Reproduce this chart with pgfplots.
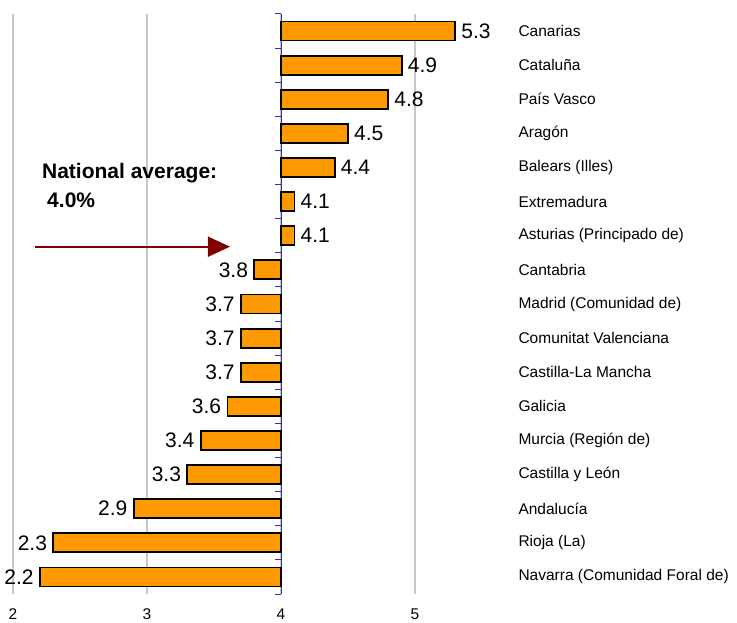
\documentclass[border=0pt]{standalone}
\usepackage{pgfplots}
\pgfplotsset{compat=1.18}
\usepackage{pgfplotstable}
\usepackage{fontspec}
\setmainfont{Liberation Sans}
\usetikzlibrary{arrows.meta}
\definecolor{barorange}{HTML}{FF9900}
\definecolor{axblue}{HTML}{3535A0}
\definecolor{arrowred}{HTML}{800000}
\definecolor{gridgray}{HTML}{C8C8C8}

% idx = row from top, val = value (%)
\pgfplotstableread{
idx val
0 5.3
1 4.9
2 4.8
3 4.5
4 4.4
5 4.1
6 4.1
}\pos
\pgfplotstableread{
idx val
7 3.8
8 3.7
9 3.7
10 3.7
11 3.6
12 3.4
13 3.3
14 2.9
15 2.3
16 2.2
}\neg

\begin{document}
\begin{tikzpicture}
\begin{axis}[
  name=ax,
  scale only axis,
  width=469pt, height=580pt,
  xmin=-2, xmax=1.5,
  ymin=-0.5, ymax=16.5,
  y dir=reverse,
  xbar, bar width=19pt, bar shift=0pt,
  axis line style={draw=none},
  major tick length=0pt,
  xtick={-2,-1,0,1},
  xticklabels={2,3,4,5},
  ytick={0,...,16},
  yticklabels={Canarias,Cataluña,País Vasco,Aragón,Balears (Illes),Extremadura,Asturias (Principado de),Cantabria,Madrid (Comunidad de),Comunitat Valenciana,Castilla-La Mancha,Galicia,Murcia (Región de),Castilla y León,Andalucía,Rioja (La),Navarra (Comunidad Foral de)},
  yticklabel pos=right,
  yticklabel style={anchor=west, xshift=33pt, font=\fontsize{15.5}{18}\selectfont},
  xticklabel style={font=\fontsize{15.5}{18}\selectfont, yshift=-11pt},
  /pgf/number format/assume math mode=true,
  xmajorgrids,
  grid style={gridgray, line width=1.2pt},
  clip=false,
]
\draw[axblue, line width=1pt] (axis cs:0,-0.5) -- (axis cs:0,16.5);
\pgfplotsinvokeforeach{0,...,17}{
  \draw[axblue, line width=1pt] (axis cs:0,#1-0.5) -- ([xshift=-6pt]axis cs:0,#1-0.5);
}
\addplot[fill=barorange, draw=black, line width=1.8pt,
  point meta=explicit,
  nodes near coords={\pgfmathprintnumber[fixed,fixed zerofill,precision=1]{\pgfplotspointmeta}},
  nodes near coords style={anchor=west, font=\fontsize{21}{24}\selectfont, xshift=2pt, text=black}]
  table[x expr=\thisrow{val}-4, y=idx, meta=val] {\pos};
\addplot[fill=barorange, draw=black, line width=1.8pt,
  point meta=explicit,
  nodes near coords={\pgfmathprintnumber[fixed,fixed zerofill,precision=1]{\pgfplotspointmeta}},
  nodes near coords style={anchor=east, font=\fontsize{21}{24}\selectfont, xshift=-2pt, text=black}]
  table[x expr=\thisrow{val}-4, y=idx, meta=val] {\neg};
\node[anchor=west, inner sep=0pt, font=\bfseries\fontsize{21}{24}\selectfont] at (axis cs:-1.784,4.15) {National average:};
\node[anchor=west, inner sep=0pt, font=\bfseries\fontsize{21}{24}\selectfont] at (axis cs:-1.746,4.97) {4.0\%};
\draw[arrowred, line width=1.8pt, -{Triangle[length=22pt,width=20pt]}] (axis cs:-1.836,6.32) -- (axis cs:-0.381,6.32);
\end{axis}
\pgfresetboundingbox
\path[use as bounding box] ([xshift=-13pt,yshift=-29pt]ax.south west) rectangle ([xshift=255pt,yshift=14pt]ax.north east);
\end{tikzpicture}
\end{document}
